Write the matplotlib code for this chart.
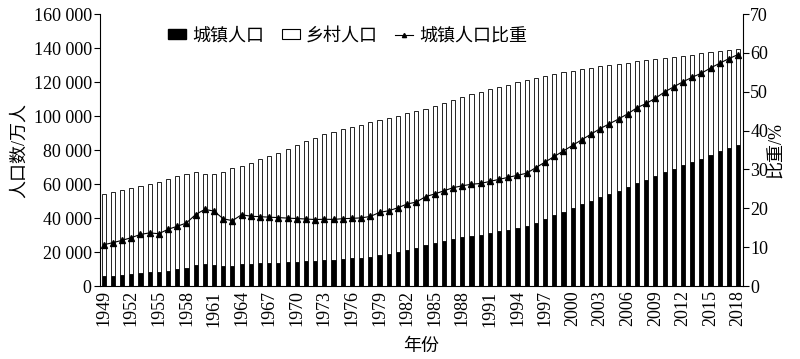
import matplotlib
matplotlib.use("Agg")
import matplotlib.pyplot as plt
from matplotlib.ticker import FuncFormatter, MultipleLocator
from matplotlib.patches import Patch
from matplotlib.lines import Line2D
import numpy as np

plt.rcParams['font.family'] = ['Liberation Serif', 'Noto Sans CJK SC']
plt.rcParams['axes.unicode_minus'] = False

years = list(range(1949, 2019))
total_pop = [54167, 55196, 56300, 57482, 58796, 60266, 61465, 62828, 64653, 65994,
             67207, 66207, 65859, 67295, 69172, 70499, 72538, 74542, 76368, 78534,
             80671, 82992, 85229, 87177, 89211, 90859, 92420, 93717, 94974, 96259,
             97542, 98705, 100072, 101654, 103008, 104357, 105851, 107507, 109300, 111026,
             112704, 114333, 115823, 117171, 118517, 119850, 121121, 122389, 123626, 124761,
             125786, 126743, 127627, 128453, 129227, 129988, 130756, 131448, 132129, 132802,
             133450, 134091, 134735, 135404, 136072, 136782, 137462, 138271, 139008, 139538]
urban_pop = [5765, 6169, 6632, 7163, 7826, 8249, 8285, 9185, 9949, 10721,
             12371, 13073, 12707, 11659, 11646, 12950, 13045, 13313, 13548, 13838,
             14117, 14424, 14711, 14935, 15345, 15595, 16030, 16341, 16669, 17245,
             18495, 19140, 20171, 21480, 22274, 24017, 25094, 26366, 27674, 28661,
             29540, 30195, 31203, 32175, 33173, 34169, 35174, 37304, 39449, 41608,
             43748, 45906, 48064, 50212, 52376, 54283, 56212, 58288, 60633, 62403,
             64512, 66978, 69079, 71182, 73111, 74916, 77116, 79298, 81347, 83137]
urban_ratio = [10.64, 11.18, 11.78, 12.46, 13.31, 13.69, 13.48, 14.62, 15.39, 16.25,
               18.41, 19.75, 19.29, 17.33, 16.84, 18.37, 17.98, 17.86, 17.74, 17.62,
               17.50, 17.38, 17.26, 17.13, 17.20, 17.16, 17.34, 17.44, 17.55, 17.92,
               18.96, 19.39, 20.16, 21.13, 21.62, 23.01, 23.71, 24.52, 25.32, 25.81,
               26.21, 26.41, 26.94, 27.46, 27.99, 28.51, 29.04, 30.48, 31.91, 33.35,
               34.78, 36.22, 37.66, 39.09, 40.53, 41.76, 42.99, 44.34, 45.89, 46.99,
               48.34, 49.95, 51.27, 52.57, 53.73, 54.77, 56.10, 57.35, 58.52, 59.58]
tick_years = list(range(1949, 2019, 3))

x = np.arange(len(years))
urban = np.array(urban_pop)
rural = np.array(total_pop) - urban

fig = plt.figure(figsize=(8, 3.59), dpi=100)
ax = fig.add_axes([0.125, 0.203, 0.804, 0.758])

bw = 0.45
ax.bar(x, urban, width=bw, color='black', edgecolor='black', linewidth=0.6, zorder=2)
ax.bar(x, rural, width=bw, bottom=urban, facecolor='white', edgecolor='black',
       linewidth=0.6, zorder=2)

ax.set_xlim(-0.4, len(years) - 0.45)
ax.set_ylim(0, 160000)
ax.yaxis.set_major_locator(MultipleLocator(20000))
ax.yaxis.set_major_formatter(FuncFormatter(lambda v, p: f"{v:,.0f}".replace(",", " ")))
ax.set_xticks([years.index(y) for y in tick_years])
ax.set_xticklabels([str(y) for y in tick_years], rotation=90, fontsize=13)
ax.tick_params(axis='x', length=0, pad=3)
ax.tick_params(axis='y', labelsize=13, length=4, width=0.8, direction='out', pad=2)
ax.spines['top'].set_visible(False)
ax.spines['right'].set_visible(False)
for s in ['left', 'bottom']:
    ax.spines[s].set_linewidth(0.8)
ax.set_ylabel('人口数/万人', fontsize=13, labelpad=4)
ax.set_xlabel('年份', fontsize=13, labelpad=8)

ax2 = ax.twinx()
ax2.plot(x, urban_ratio, color='black', linewidth=0.8, marker='^', markersize=4, zorder=3)
ax2.set_ylim(0, 70)
ax2.yaxis.set_major_locator(MultipleLocator(10))
ax2.tick_params(axis='y', labelsize=13, length=4, width=0.8, direction='out', pad=1)
ax2.spines['top'].set_visible(False)
ax2.spines['left'].set_visible(False)
ax2.spines['right'].set_linewidth(0.8)
ax2.spines['bottom'].set_visible(False)
ax2.set_ylabel('比重/%', fontsize=13, labelpad=0)

handles = [Patch(facecolor='black', edgecolor='black'),
           Patch(facecolor='white', edgecolor='black', linewidth=0.8),
           Line2D([], [], color='black', linewidth=0.8, marker='^', markersize=3)]
labels = ['城镇人口', '乡村人口', '城镇人口比重']
ax.legend(handles, labels, loc='upper center', bbox_to_anchor=(0.385, 1.01), ncol=3,
          frameon=False, fontsize=13, handlelength=1.0, handleheight=0.5,
          handletextpad=0.3, columnspacing=1.0)

fig.savefig('out.png', dpi=100)
